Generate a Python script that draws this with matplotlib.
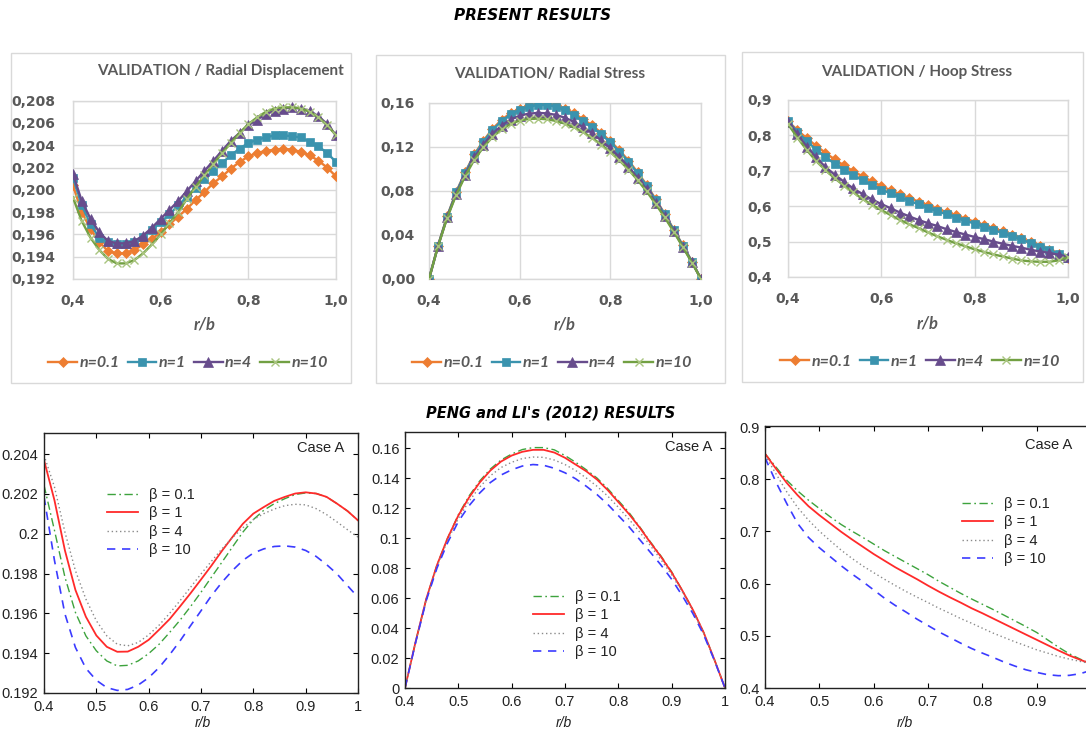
import matplotlib
matplotlib.use("Agg")
import matplotlib.pyplot as plt
from matplotlib.patches import Rectangle

# ---------------- data ----------------
r_top = [0.40, 0.42, 0.44, 0.46, 0.48, 0.50, 0.52, 0.54, 0.56, 0.58, 0.60, 0.62, 0.64, 0.66, 0.68,
         0.70, 0.72, 0.74, 0.76, 0.78, 0.80, 0.82, 0.84, 0.86, 0.88, 0.90, 0.92, 0.94, 0.96, 0.98, 1.00]
top_labels = ["n=0.1", "n=1", "n=4", "n=10"]

disp_n01 = [0.2004, 0.1980, 0.1965, 0.1953, 0.1945, 0.1943, 0.1943, 0.1946, 0.1951, 0.1956, 0.1962,
            0.1969, 0.1976, 0.1983, 0.1991, 0.1998, 0.2006, 0.2012, 0.2019, 0.2025, 0.2030, 0.2033,
            0.2035, 0.2036, 0.2037, 0.2036, 0.2034, 0.2031, 0.2026, 0.2020, 0.2012]
disp_n1 = [0.2011, 0.1986, 0.1969, 0.1957, 0.1953, 0.1951, 0.1951, 0.1953, 0.1958, 0.1964, 0.1971,
           0.1978, 0.1986, 0.1994, 0.2002, 0.2010, 0.2017, 0.2024, 0.2031, 0.2037, 0.2042, 0.2045,
           0.2047, 0.2049, 0.2049, 0.2048, 0.2047, 0.2043, 0.2039, 0.2033, 0.2025]
disp_n4 = [0.2014, 0.1990, 0.1974, 0.1962, 0.1954, 0.1952, 0.1952, 0.1954, 0.1959, 0.1966, 0.1974,
           0.1982, 0.1990, 0.1999, 0.2008, 0.2017, 0.2026, 0.2035, 0.2044, 0.2051, 0.2058, 0.2063,
           0.2068, 0.2071, 0.2073, 0.2074, 0.2073, 0.2071, 0.2066, 0.2059, 0.2049]
disp_n10 = [0.1993, 0.1972, 0.1957, 0.1946, 0.1938, 0.1934, 0.1934, 0.1937, 0.1943, 0.1951, 0.1960,
            0.1970, 0.1980, 0.1992, 0.2003, 0.2013, 0.2023, 0.2033, 0.2042, 0.2051, 0.2059, 0.2065,
            0.2070, 0.2073, 0.2074, 0.2074, 0.2073, 0.2070, 0.2065, 0.2058, 0.2049]

rad_n01 = [0.0, 0.0304, 0.0569, 0.0791, 0.0972, 0.1133, 0.1256, 0.1364, 0.1446, 0.1508, 0.1548,
           0.1578, 0.1592, 0.1593, 0.1580, 0.1550, 0.1506, 0.1452, 0.1396, 0.1328, 0.1254, 0.1170,
           0.1077, 0.0970, 0.0856, 0.0724, 0.0592, 0.0448, 0.0305, 0.0159, 0.0]
rad_n1 = [0.0, 0.0303, 0.0567, 0.0788, 0.0967, 0.1127, 0.1248, 0.1355, 0.1436, 0.1497, 0.1536,
          0.1567, 0.1582, 0.1582, 0.1567, 0.1536, 0.1491, 0.1436, 0.1380, 0.1315, 0.1242, 0.1158,
          0.1067, 0.0961, 0.0848, 0.0718, 0.0588, 0.0445, 0.0303, 0.0158, 0.0]
rad_n4 = [0.0, 0.0300, 0.0560, 0.0775, 0.0950, 0.1105, 0.1222, 0.1320, 0.1395, 0.1450, 0.1485,
          0.1503, 0.1510, 0.1506, 0.1492, 0.1466, 0.1428, 0.1380, 0.1325, 0.1260, 0.1188, 0.1108,
          0.1020, 0.0920, 0.0815, 0.0695, 0.0570, 0.0435, 0.0295, 0.0152, 0.0]
rad_n10 = [0.0, 0.0298, 0.0555, 0.0765, 0.0937, 0.1085, 0.1198, 0.1290, 0.1360, 0.1410, 0.1440,
           0.1455, 0.1458, 0.1452, 0.1437, 0.1412, 0.1378, 0.1335, 0.1282, 0.1222, 0.1155, 0.1078,
           0.0995, 0.0900, 0.0797, 0.0682, 0.0560, 0.0428, 0.0290, 0.0149, 0.0]

hoop_n01 = [0.840, 0.815, 0.792, 0.771, 0.751, 0.732, 0.715, 0.699, 0.684, 0.670, 0.657, 0.645,
            0.634, 0.623, 0.613, 0.603, 0.593, 0.583, 0.574, 0.565, 0.556, 0.547, 0.538, 0.529,
            0.519, 0.509, 0.499, 0.488, 0.477, 0.466, 0.455]
hoop_n1 = [0.840, 0.811, 0.784, 0.760, 0.739, 0.720, 0.703, 0.687, 0.673, 0.659, 0.647, 0.636,
           0.625, 0.615, 0.605, 0.595, 0.586, 0.577, 0.568, 0.559, 0.551, 0.542, 0.533, 0.524,
           0.515, 0.506, 0.496, 0.486, 0.476, 0.466, 0.455]
hoop_n4 = [0.839, 0.804, 0.768, 0.738, 0.711, 0.689, 0.669, 0.650, 0.634, 0.619, 0.606, 0.594,
           0.582, 0.571, 0.561, 0.552, 0.544, 0.535, 0.527, 0.520, 0.513, 0.507, 0.500, 0.494,
           0.488, 0.483, 0.477, 0.472, 0.468, 0.463, 0.457]
hoop_n10 = [0.832, 0.794, 0.759, 0.728, 0.702, 0.679, 0.658, 0.639, 0.620, 0.604, 0.589, 0.575,
            0.561, 0.549, 0.538, 0.526, 0.515, 0.505, 0.495, 0.487, 0.478, 0.471, 0.464, 0.458,
            0.452, 0.447, 0.444, 0.443, 0.443, 0.447, 0.456]

r_bot = r_top
bot_labels = ["β = 0.1", "β = 1", "β = 4", "β = 10"]

pl_disp_b01 = [0.20244, 0.20017, 0.19782, 0.19605, 0.19487, 0.19412, 0.19361, 0.19336, 0.19339,
               0.19361, 0.19398, 0.19445, 0.19504, 0.19566, 0.19634, 0.19706, 0.19782, 0.19857,
               0.19933, 0.20008, 0.20071, 0.20118, 0.20151, 0.20176, 0.20197, 0.20205, 0.20202,
               0.20185, 0.20151, 0.20114, 0.20067]
pl_disp_b1 = [0.20370, 0.20168, 0.19916, 0.19718, 0.19583, 0.19489, 0.19432, 0.19407, 0.19408,
              0.19432, 0.19467, 0.19518, 0.19571, 0.19635, 0.19701, 0.19770, 0.19840, 0.19914,
              0.19983, 0.20050, 0.20101, 0.20134, 0.20165, 0.20185, 0.20202, 0.20208, 0.20202,
              0.20185, 0.20151, 0.20114, 0.20067]
pl_disp_b4 = [0.20395, 0.20235, 0.20008, 0.19815, 0.19672, 0.19563, 0.19487, 0.19445, 0.19437,
              0.19454, 0.19492, 0.19541, 0.19600, 0.19664, 0.19731, 0.19798, 0.19862, 0.19924,
              0.19980, 0.20030, 0.20071, 0.20101, 0.20124, 0.20141, 0.20148, 0.20145, 0.20126,
              0.20096, 0.20059, 0.20020, 0.19983]
pl_disp_b10 = [0.20185, 0.19866, 0.19597, 0.19429, 0.19324, 0.19264, 0.19227, 0.19213, 0.19218,
               0.19240, 0.19277, 0.19328, 0.19392, 0.19462, 0.19538, 0.19613, 0.19689, 0.19756,
               0.19815, 0.19866, 0.19903, 0.19924, 0.19936, 0.19939, 0.19933, 0.19916, 0.19886,
               0.19845, 0.19798, 0.19739, 0.19681]

pl_rad_b01 = [0.0, 0.0310, 0.0596, 0.0820, 0.1000, 0.1155, 0.1280, 0.1380, 0.1460, 0.1520, 0.1560,
              0.1590, 0.1603, 0.1603, 0.1588, 0.1550, 0.1505, 0.1455, 0.1400, 0.1330, 0.1250,
              0.1170, 0.1075, 0.0975, 0.0880, 0.0775, 0.0650, 0.0520, 0.0370, 0.0190, 0.0]
pl_rad_b1 = [0.0, 0.0310, 0.0596, 0.0820, 0.1000, 0.1150, 0.1270, 0.1370, 0.1450, 0.1510, 0.1550,
             0.1575, 0.1588, 0.1588, 0.1570, 0.1535, 0.1490, 0.1445, 0.1390, 0.1320, 0.1240,
             0.1160, 0.1070, 0.0970, 0.0875, 0.0770, 0.0650, 0.0520, 0.0370, 0.0190, 0.0]
pl_rad_b4 = [0.0, 0.0308, 0.0590, 0.0810, 0.0985, 0.1130, 0.1245, 0.1340, 0.1415, 0.1470, 0.1505,
             0.1530, 0.1540, 0.1538, 0.1520, 0.1490, 0.1450, 0.1400, 0.1345, 0.1280, 0.1205,
             0.1125, 0.1040, 0.0950, 0.0855, 0.0755, 0.0640, 0.0510, 0.0365, 0.0190, 0.0]
pl_rad_b10 = [0.0, 0.0305, 0.0585, 0.0800, 0.0970, 0.1110, 0.1215, 0.1300, 0.1370, 0.1420, 0.1455,
              0.1480, 0.1490, 0.1485, 0.1465, 0.1435, 0.1395, 0.1345, 0.1290, 0.1225, 0.1150,
              0.1075, 0.0990, 0.0905, 0.0820, 0.0725, 0.0615, 0.0495, 0.0355, 0.0185, 0.0]

pl_hoop_b01 = [0.8490, 0.8236, 0.7981, 0.7777, 0.7599, 0.7439, 0.7280, 0.7134, 0.7006, 0.6885,
               0.6758, 0.6631, 0.6516, 0.6401, 0.6287, 0.6172, 0.6045, 0.5930, 0.5815, 0.5707,
               0.5605, 0.5503, 0.5395, 0.5287, 0.5178, 0.5064, 0.4924, 0.4783, 0.4656, 0.4554, 0.4465]
pl_hoop_b1 = [0.8490, 0.8204, 0.7930, 0.7694, 0.7484, 0.7312, 0.7153, 0.6994, 0.6847, 0.6707,
              0.6567, 0.6439, 0.6312, 0.6197, 0.6083, 0.5962, 0.5847, 0.5739, 0.5637, 0.5529,
              0.5433, 0.5331, 0.5229, 0.5127, 0.5025, 0.4924, 0.4822, 0.4720, 0.4624, 0.4541, 0.4465]
pl_hoop_b4 = [0.8459, 0.8108, 0.7758, 0.7459, 0.7217, 0.7006, 0.6822, 0.6643, 0.6484, 0.6338,
              0.6210, 0.6083, 0.5962, 0.5847, 0.5739, 0.5637, 0.5529, 0.5433, 0.5331, 0.5242,
              0.5146, 0.5051, 0.4968, 0.4885, 0.4809, 0.4732, 0.4669, 0.4605, 0.4554, 0.4510, 0.4465]
pl_hoop_b10 = [0.8414, 0.7949, 0.7535, 0.7153, 0.6885, 0.6688, 0.6516, 0.6344, 0.6185, 0.6038,
               0.5879, 0.5720, 0.5580, 0.5452, 0.5318, 0.5197, 0.5076, 0.4968, 0.4860, 0.4758,
               0.4669, 0.4586, 0.4497, 0.4420, 0.4350, 0.4299, 0.4255, 0.4236, 0.4242, 0.4274, 0.4338]

# tick labels
top_xticks = [0.4, 0.6, 0.8, 1.0]
top_xticklabels = ["0,4", "0,6", "0,8", "1,0"]
disp_yticks = [0.192, 0.194, 0.196, 0.198, 0.200, 0.202, 0.204, 0.206, 0.208]
disp_yticklabels = ["0,192", "0,194", "0,196", "0,198", "0,200", "0,202", "0,204", "0,206", "0,208"]
rad_yticks = [0.0, 0.04, 0.08, 0.12, 0.16]
rad_yticklabels = ["0,00", "0,04", "0,08", "0,12", "0,16"]
hoop_yticks = [0.4, 0.5, 0.6, 0.7, 0.8, 0.9]
hoop_yticklabels = ["0,4", "0,5", "0,6", "0,7", "0,8", "0,9"]

bot_xticks = [0.4, 0.5, 0.6, 0.7, 0.8, 0.9, 1.0]
bot_xticklabels = ["0.4", "0.5", "0.6", "0.7", "0.8", "0.9", "1"]
pl_disp_yticks = [0.192, 0.194, 0.196, 0.198, 0.200, 0.202, 0.204]
pl_disp_yticklabels = ["0.192", "0.194", "0.196", "0.198", "0.2", "0.202", "0.204"]
pl_rad_yticks = [0.0, 0.02, 0.04, 0.06, 0.08, 0.10, 0.12, 0.14, 0.16]
pl_rad_yticklabels = ["0", "0.02", "0.04", "0.06", "0.08", "0.1", "0.12", "0.14", "0.16"]
pl_hoop_yticks = [0.4, 0.5, 0.6, 0.7, 0.8, 0.9]
pl_hoop_yticklabels = ["0.4", "0.5", "0.6", "0.7", "0.8", "0.9"]

# ---------------- figure ----------------
W, H = 1086, 733
fig = plt.figure(figsize=(W / 100, H / 100), dpi=100, facecolor="white")

def add_ax(l, r, t, b):
    return fig.add_axes([l / W, 1 - b / H, (r - l) / W, (b - t) / H])

def fx(x):
    return x / W

def fy(y):
    return 1 - y / H

XL_GRAY = "#595959"
GRID = "#d9d9d9"
XL_FONT = "Lato"
TICK_FONT = "DejaVu Sans"
PL_FONT = "Liberation Sans"

top_colors = ["#ED7D31", "#3A93AE", "#674C8C", "#72A043"]
top_markers = ["D", "s", "^", "x"]
top_msizes = [4.8, 6, 6.5, 6]

# section titles
fig.text(fx(533), fy(15), "PRESENT RESULTS", ha="center", va="center",
         fontsize=11, fontweight="bold", fontstyle="italic", family="DejaVu Sans", color="black")
fig.text(fx(551), fy(413), "PENG and LI's (2012) RESULTS", ha="center", va="center",
         fontsize=10.5, fontweight="bold", fontstyle="italic", family="DejaVu Sans", color="black")

# chart-area borders
for (l, r, t, b) in [(11, 351, 53, 383), (376, 725, 55, 383), (742, 1083, 52, 382)]:
    fig.patches.append(Rectangle((fx(l), fy(b)), (r - l) / W, (b - t) / H, transform=fig.transFigure,
                                 fill=False, edgecolor=GRID, linewidth=1.0, zorder=0))

top_specs = [
    dict(box=(73, 336, 100.7, 279), series=[disp_n01, disp_n1, disp_n4, disp_n10],
         ylim=(0.192, 0.208), yt=disp_yticks, ytl=disp_yticklabels, ypad=13,
         title="VALIDATION / Radial Displacement", tpos=(220, 71), lpos=(188, 363)),
    dict(box=(429, 701, 103, 279), series=[rad_n01, rad_n1, rad_n4, rad_n10],
         ylim=(0.0, 0.16), yt=rad_yticks, ytl=rad_yticklabels, ypad=10,
         title="VALIDATION/ Radial Stress", tpos=(550, 74), lpos=(552, 363)),
    dict(box=(788, 1068, 100, 277), series=[hoop_n01, hoop_n1, hoop_n4, hoop_n10],
         ylim=(0.4, 0.9), yt=hoop_yticks, ytl=hoop_yticklabels, ypad=11.5,
         title="VALIDATION / Hoop Stress", tpos=(917, 72), lpos=(920, 362)),
]

for spec in top_specs:
    l, r, t, b = spec["box"]
    ax = add_ax(l, r, t, b)
    for i, ys in enumerate(spec["series"]):
        mfc = top_colors[i] if i < 3 else "#A9C47F"
        ax.plot(r_top, ys, color=top_colors[i], lw=1.7, marker=top_markers[i],
                ms=top_msizes[i], mfc=mfc, mec=mfc, mew=1.0 if i == 3 else 0.5,
                label=top_labels[i], zorder=3 + i)
    ax.set_xlim(0.4, 1.0)
    ax.set_ylim(*spec["ylim"])
    ax.set_xticks(top_xticks)
    ax.set_xticklabels(top_xticklabels)
    ax.set_yticks(spec["yt"])
    ax.set_yticklabels(spec["ytl"])
    ax.grid(True, color=GRID, lw=1.0)
    ax.set_axisbelow(True)
    for s in ax.spines.values():
        s.set_color(GRID)
        s.set_linewidth(1.0)
    ax.tick_params(axis="x", length=0, pad=11, labelsize=10, labelcolor=XL_GRAY)
    ax.tick_params(axis="y", length=0, pad=spec["ypad"], labelsize=10, labelcolor=XL_GRAY)
    for lab in ax.get_xticklabels() + ax.get_yticklabels():
        lab.set_fontweight("bold")
        lab.set_family(TICK_FONT)
    ax.set_xlabel("r/b", fontsize=12, fontweight="bold", fontstyle="italic",
                  color=XL_GRAY, family=XL_FONT)
    ax.xaxis.set_label_coords(0.5, (b - 316) / (b - t))
    fig.text(fx(spec["tpos"][0]), fy(spec["tpos"][1]), spec["title"], ha="center", va="center",
             fontsize=11, fontweight="bold", color=XL_GRAY, family=XL_FONT)
    ax.legend(loc="center", bbox_to_anchor=(fx(spec["lpos"][0]), fy(spec["lpos"][1])),
              bbox_transform=fig.transFigure, ncol=4, frameon=False, handlelength=1.8,
              handletextpad=0.15, columnspacing=0.5, borderpad=0,
              prop=dict(family=XL_FONT, weight="bold", style="italic", size=11.5),
              labelcolor=XL_GRAY)

# bottom panels
bot_styles = [
    dict(color="#3DA33D", ls=(0, (6, 2.5, 1.2, 2.5)), lw=1.0),
    dict(color="#FF2A2A", ls="-", lw=1.3),
    dict(color="#8A8A8A", ls=(0, (1, 2)), lw=1.0),
    dict(color="#3B3BFF", ls=(0, (5, 4)), lw=1.2),
]

bot_specs = [
    dict(box=(44, 358, 433, 693), series=[pl_disp_b01, pl_disp_b1, pl_disp_b4, pl_disp_b10],
         ylim=(0.192, 0.20506), yt=pl_disp_yticks, ytl=pl_disp_yticklabels,
         xt=bot_xticks, xtl=bot_xticklabels, case=(321, 448), leg=(107, 488), xlab=203),
    dict(box=(405, 725, 432, 688), series=[pl_rad_b01, pl_rad_b1, pl_rad_b4, pl_rad_b10],
         ylim=(0.0, 0.1707), yt=pl_rad_yticks, ytl=pl_rad_yticklabels,
         xt=bot_xticks, xtl=bot_xticklabels, case=(689, 447), leg=(533, 590), xlab=564),
    # the right edge of this panel is cropped in the source image: the "1" tick is not shown
    dict(box=(765, 1091, 426, 688), series=[pl_hoop_b01, pl_hoop_b1, pl_hoop_b4, pl_hoop_b10],
         ylim=(0.4, 0.902), yt=pl_hoop_yticks, ytl=pl_hoop_yticklabels,
         xt=bot_xticks[:-1], xtl=bot_xticklabels[:-1], case=(1049, 445), leg=(962, 497), xlab=905),
]

for spec in bot_specs:
    l, r, t, b = spec["box"]
    ax = add_ax(l, r, t, b)
    for i, ys in enumerate(spec["series"]):
        ax.plot(r_bot, ys, label=bot_labels[i], **bot_styles[i])
    ax.set_xlim(0.4, 1.0)
    ax.set_ylim(*spec["ylim"])
    ax.set_xticks(spec["xt"])
    ax.set_xticklabels(spec["xtl"])
    ax.set_yticks(spec["yt"])
    ax.set_yticklabels(spec["ytl"])
    for s in ax.spines.values():
        s.set_color("#222222")
        s.set_linewidth(1.0)
    ax.tick_params(direction="in", length=3.5, width=0.8, top=True, right=True,
                   labelsize=10.5, labelcolor="#222222")
    ax.tick_params(axis="x", pad=5)
    ax.tick_params(axis="y", pad=4)
    for lab in ax.get_xticklabels() + ax.get_yticklabels():
        lab.set_family(PL_FONT)
    ax.set_xlabel("r/b", fontsize=10, fontstyle="italic", family=PL_FONT, color="#222222")
    ax.xaxis.set_label_coords((spec["xlab"] - l) / (r - l), (b - 716) / (b - t))
    ax.text(fx(spec["case"][0]), fy(spec["case"][1]), "Case A", transform=fig.transFigure,
            ha="center", va="center", fontsize=10.5, family=PL_FONT, color="#222222")
    ax.legend(loc="upper left", bbox_to_anchor=(fx(spec["leg"][0]), fy(spec["leg"][1])),
              bbox_transform=fig.transFigure, frameon=False, handlelength=2.1,
              handletextpad=0.75, labelspacing=0.3, borderpad=0, borderaxespad=0,
              prop=dict(family=PL_FONT, size=10.5), labelcolor="#222222")

fig.savefig("out.png", dpi=100, facecolor="white")
